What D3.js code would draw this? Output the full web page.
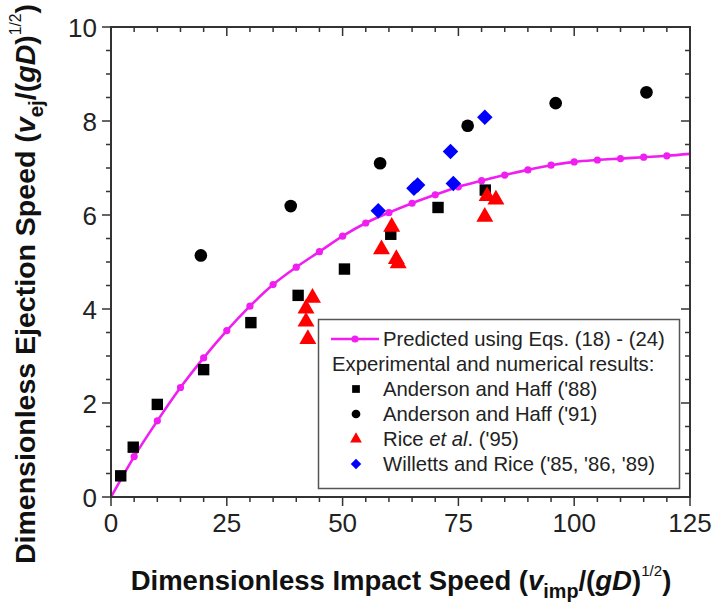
<!DOCTYPE html>
<html><head><meta charset="utf-8">
<script src="https://cdn.jsdelivr.net/npm/d3@7"></script>
<style>body{margin:0;background:#fff;} text{font-family:"Liberation Sans",Arial,sans-serif;}</style>
</head><body><svg id="c" width="718" height="602"></svg>
<script>
// Predicted curve (Eqs. 18-24)
const predX = [0,5,10,15,20,25,30,35,40,45,50,55,60,65,70,75,80,85,90,95,100,105,110,115,120,125];
const predY = [0,0.86,1.62,2.33,2.96,3.54,4.06,4.52,4.89,5.22,5.55,5.83,6.05,6.25,6.43,6.60,6.73,6.85,6.96,7.06,7.13,7.17,7.20,7.23,7.26,7.30];
// Anderson and Haff ('88)
const ah88X = [2.1,4.8,10.0,20.0,30.2,40.4,50.4,60.4,70.6,80.8];
const ah88Y = [0.45,1.06,1.97,2.71,3.71,4.29,4.85,5.59,6.16,6.53];
// Anderson and Haff ('91)
const ah91X = [19.4,38.8,58.1,77.0,96.0,115.6];
const ah91Y = [5.14,6.19,7.10,7.90,8.38,8.61];
// Rice et al. ('95)
const riceX = [43.5,42.1,42.1,42.5,60.6,58.4,61.6,62.0,80.7,81.2,83.1];
const riceY = [4.24,4.01,3.73,3.36,5.75,5.27,5.06,4.97,5.96,6.40,6.33];
// Willetts and Rice ('85, '86, '89)
const wrX = [57.7,65.4,66.2,73.3,73.9,80.7];
const wrY = [6.09,6.57,6.64,7.35,6.67,8.08];
const xTicks = [0,25,50,75,100,125];
const yTicks = [0,2,4,6,8,10];

const svg = d3.select("#c");
const L=111, T=27, R=690, B=497;
const x = d3.scaleLinear().domain([0,125]).range([L,R]);
const y = d3.scaleLinear().domain([0,10]).range([B,T]);
const MAG="#f01ef0", RED="#ff0000", BLUE="#0000ff", TXT="#222";

const plot = svg.append("g");
const line = d3.line().x((d,i)=>x(predX[i])).y((d,i)=>y(predY[i])).curve(d3.curveMonotoneX);
plot.append("path").datum(predX).attr("d",line).attr("fill","none").attr("stroke",MAG).attr("stroke-width",2.6);
plot.selectAll(".pm").data(predX.slice(1,-1)).enter().append("circle")
  .attr("cx",d=>x(d)).attr("cy",(d,i)=>y(predY[i+1])).attr("r",3.6).attr("fill",MAG);

const sym = (type,size)=>d3.symbol().type(type).size(size);
function pts(xs,ys,type,size,color,rot){
  plot.append("g").selectAll("path").data(xs).enter().append("path")
   .attr("transform",(d,i)=>`translate(${x(d)},${y(ys[i])}) rotate(${rot||0})`)
   .attr("d",sym(type,size)()).attr("fill",color);
}
pts(ah88X,ah88Y,d3.symbolSquare,130,"#000");
pts(ah91X,ah91Y,d3.symbolCircle,125,"#000");
pts(riceX,riceY,d3.symbolTriangle,125,RED);
pts(wrX,wrY,d3.symbolSquare,120,BLUE,45);

// axes
const ax = svg.append("g").attr("stroke","#333").attr("fill","none");
ax.append("rect").attr("x",L).attr("y",T).attr("width",R-L).attr("height",B-T).attr("stroke-width",2);
const xMinor = d3.range(0,126,5), yMinor = d3.range(0,10.01,0.5);
xMinor.forEach(v=>{
  const big = v%25===0, len = big?9:5;
  ax.append("line").attr("x1",x(v)).attr("x2",x(v)).attr("y1",B).attr("y2",B+len).attr("stroke-width",1.5);
  ax.append("line").attr("x1",x(v)).attr("x2",x(v)).attr("y1",T).attr("y2",T+len).attr("stroke-width",1.5);
});
yMinor.forEach(v=>{
  const big = Math.abs(v%2)<1e-6, len = big?9:5;
  ax.append("line").attr("x1",L).attr("x2",L-len).attr("y1",y(v)).attr("y2",y(v)).attr("stroke-width",1.5);
  ax.append("line").attr("x1",R).attr("x2",R-len).attr("y1",y(v)).attr("y2",y(v)).attr("stroke-width",1.5);
});
svg.append("g").selectAll("text").data(xTicks).enter().append("text")
  .attr("x",d=>x(d)).attr("y",532).attr("text-anchor","middle").attr("font-size",26).attr("fill",TXT).text(d=>d);
svg.append("g").selectAll("text").data(yTicks).enter().append("text")
  .attr("x",97).attr("y",d=>y(d)+9.5).attr("text-anchor","end").attr("font-size",26).attr("fill",TXT).text(d=>d);

// axis titles
function title(sel, sub, fs){
  sel.append("tspan").text(sub[0]);
  sel.append("tspan").attr("font-style","italic").text("v");
  sel.append("tspan").attr("font-size",fs*0.72).attr("dy",fs*0.28).text(sub[1]);
  sel.append("tspan").attr("dy",-fs*0.28).text("/(");
  sel.append("tspan").attr("font-style","italic").text("gD");
  sel.append("tspan").text(")");
  sel.append("tspan").attr("font-size",fs*0.55).attr("font-weight","normal").attr("dy",-fs*0.5).text("1/2");
  sel.append("tspan").attr("dy",fs*0.5).text(")");
}
const xfs=27.5;
const xt = svg.append("text").attr("x",401).attr("y",590).attr("text-anchor","middle")
  .attr("font-size",xfs).attr("font-weight","bold").attr("fill","#111");
title(xt,["Dimensionless Impact Speed (","imp"],xfs);
const yfs=28.5;
const yt = svg.append("text").attr("transform","translate(35,284) rotate(-90)").attr("text-anchor","middle")
  .attr("font-size",yfs).attr("font-weight","bold").attr("fill","#111");
title(yt,["Dimensionless Ejection Speed (","ej"],yfs);

// legend
const lg = svg.append("g");
lg.append("rect").attr("x",318.5).attr("y",319.5).attr("width",361).attr("height",169)
  .attr("fill","#fff").attr("stroke","#555").attr("stroke-width",1.5);
const ly = [346,371,396,421,446,471];
lg.append("line").attr("x1",331).attr("x2",379).attr("y1",ly[0]-7).attr("y2",ly[0]-7).attr("stroke",MAG).attr("stroke-width",2.6);
lg.append("circle").attr("cx",355).attr("cy",ly[0]-7).attr("r",3.6).attr("fill",MAG);
const fs=20.3;
lg.append("text").attr("x",383).attr("y",ly[0]).attr("font-size",fs).attr("fill",TXT).text("Predicted using Eqs. (18) - (24)");
lg.append("text").attr("x",332).attr("y",ly[1]).attr("font-size",fs).attr("fill",TXT).text("Experimental and numerical results:");
const items = [
  {t:d3.symbolSquare,s:60,c:"#000",r:0,lab:"Anderson and Haff ('88)"},
  {t:d3.symbolCircle,s:60,c:"#000",r:0,lab:"Anderson and Haff ('91)"},
  {t:d3.symbolTriangle,s:60,c:RED,r:0,lab:null},
  {t:d3.symbolSquare,s:55,c:BLUE,r:45,lab:"Willetts and Rice ('85, '86, '89)"}
];
items.forEach((it,i)=>{
  lg.append("path").attr("transform",`translate(356,${ly[i+2]-7}) rotate(${it.r})`).attr("d",sym(it.t,it.s)()).attr("fill",it.c);
  const t = lg.append("text").attr("x",383).attr("y",ly[i+2]).attr("font-size",fs).attr("fill",TXT);
  if(it.lab) t.text(it.lab);
  else { t.append("tspan").text("Rice "); t.append("tspan").attr("font-style","italic").text("et al"); t.append("tspan").text(". ('95)"); }
});
</script></body></html>
